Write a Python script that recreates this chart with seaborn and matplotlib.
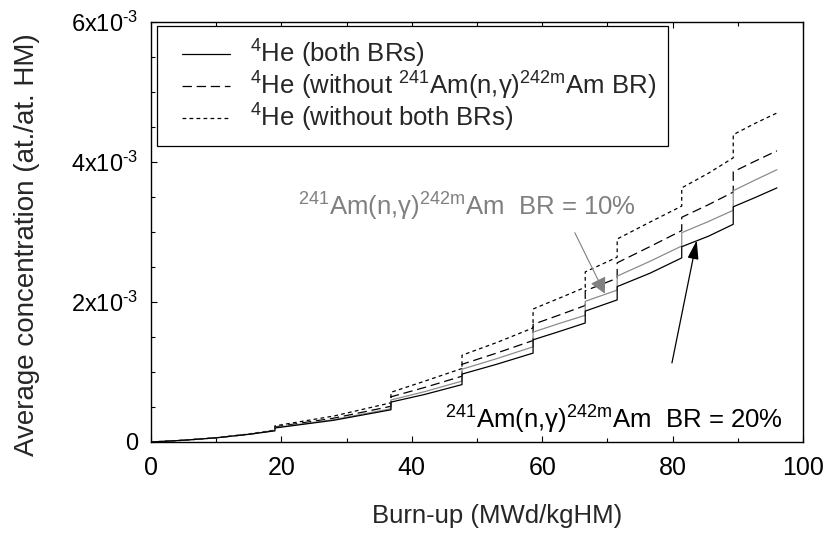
import matplotlib
matplotlib.use("Agg")
import matplotlib.pyplot as plt
import seaborn as sns
import pandas as pd
from matplotlib.ticker import MultipleLocator
from matplotlib.legend_handler import HandlerLine2D

# Burn-up grid (MWd/kgHM); repeated values mark the reload steps
burnup = [0, 5, 10, 15, 19.0, 19.0, 28, 36.8, 36.8, 42, 47.7, 47.7, 53, 58.6, 58.6,
          62.5, 66.6, 66.6, 71.5, 71.5, 76.5, 81.4, 81.4, 85.5, 89.3, 89.3, 92.6, 96.0]

# Average 4He concentration, in units of 1e-3 at./at. HM
he_both = [0, 0.025, 0.06, 0.11, 0.16, 0.20, 0.31, 0.46, 0.57, 0.68, 0.82, 0.97, 1.11, 1.27,
           1.46, 1.575, 1.70, 1.87, 2.03, 2.22, 2.41, 2.63, 2.79, 2.94, 3.11, 3.36, 3.49, 3.63]
he_br10 = [0, 0.025, 0.06, 0.11, 0.162, 0.205, 0.32, 0.475, 0.60, 0.72, 0.87, 1.04, 1.19, 1.36,
           1.57, 1.69, 1.81, 2.01, 2.17, 2.37, 2.58, 2.80, 2.99, 3.15, 3.31, 3.59, 3.74, 3.89]
he_no_am = [0, 0.025, 0.06, 0.11, 0.165, 0.215, 0.34, 0.51, 0.645, 0.78, 0.94, 1.11, 1.27, 1.45,
            1.68, 1.81, 1.95, 2.16, 2.34, 2.56, 2.79, 3.02, 3.21, 3.39, 3.57, 3.86, 4.01, 4.16]
he_no_both = [0, 0.025, 0.06, 0.115, 0.17, 0.23, 0.37, 0.56, 0.71, 0.87, 1.05, 1.24, 1.42, 1.63,
              1.90, 2.05, 2.21, 2.43, 2.64, 2.90, 3.14, 3.37, 3.63, 3.84, 4.06, 4.39, 4.55, 4.70]

ytick_vals = [0, 2, 4, 6]
ytick_text = ["0", r"2x10$^{\text{-3}}$", r"4x10$^{\text{-3}}$", r"6x10$^{\text{-3}}$"]


def sup(s):
    return r"$^{\mathrm{" + s + "}}$"


legend_labels = [
    sup("4") + "He (both BRs)",
    sup("4") + "He (without " + sup("241") + "Am(n,γ)" + sup("242m") + "Am BR)",
    sup("4") + "He (without both BRs)",
]
note_10 = sup("241") + "Am(n,γ)" + sup("242m") + "Am  BR = 10%"
note_20 = sup("241") + "Am(n,γ)" + sup("242m") + "Am  BR = 20%"


class InsetLine(HandlerLine2D):
    """Legend line sample that starts a little to the right of the frame."""

    def create_artists(self, legend, orig_handle, xdescent, ydescent, width,
                       height, fontsize, trans):
        shift = 0.52 * fontsize
        return super().create_artists(legend, orig_handle, xdescent - shift, ydescent,
                                      width - shift, height, fontsize, trans)


sns.set_style("ticks")
plt.rcParams["font.family"] = ["Liberation Sans", "DejaVu Sans"]
plt.rcParams["mathtext.fontset"] = "custom"
plt.rcParams["mathtext.rm"] = "Liberation Sans"
plt.rcParams["mathtext.it"] = "Liberation Sans:italic"
plt.rcParams["mathtext.sf"] = "Liberation Sans"

W, H = 825, 536
fig = plt.figure(figsize=(W / 100, H / 100), dpi=100)
ax = fig.add_axes([151 / W, 1 - 442 / H, 652 / W, 420 / H])

df = pd.DataFrame({"burnup": burnup, "both": he_both, "br10": he_br10,
                   "no_am": he_no_am, "no_both": he_no_both})

sns.lineplot(data=df, x="burnup", y="no_both", ax=ax, sort=False, estimator=None,
             color="black", lw=0.9, linestyle=(0, (3.0, 2.6)))
sns.lineplot(data=df, x="burnup", y="no_am", ax=ax, sort=False, estimator=None,
             color="black", lw=0.9, linestyle=(0, (7.5, 3.8)))
sns.lineplot(data=df, x="burnup", y="br10", ax=ax, sort=False, estimator=None,
             color="#8c8c8c", lw=0.9)
sns.lineplot(data=df, x="burnup", y="both", ax=ax, sort=False, estimator=None,
             color="black", lw=0.9)

l_short, l_long, l_gray, l_solid = ax.lines[:4]

ax.set_xlim(0, 100)
ax.set_ylim(0, 6)
ax.xaxis.set_major_locator(MultipleLocator(20))
ax.xaxis.set_minor_locator(MultipleLocator(10))
ax.set_yticks(ytick_vals)
ax.set_yticklabels(ytick_text)
ax.yaxis.set_minor_locator(MultipleLocator(0.5))

ax.tick_params(axis="x", which="both", direction="in", top=True, bottom=True,
               labelsize=18, pad=10, colors="black")
ax.tick_params(axis="y", which="both", direction="in", left=True, right=False,
               labelsize=17, pad=9, colors="black")
ax.tick_params(which="major", length=4, width=0.8)
ax.tick_params(which="minor", length=3, width=0.8)
for sp in ax.spines.values():
    sp.set_visible(True)
    sp.set_linewidth(1.0)
    sp.set_color("black")

ax.set_xlabel("Burn-up (MWd/kgHM)", fontsize=18.5)
ax.xaxis.set_label_coords(0.531, -0.148)
ax.set_ylabel("Average concentration (at./at. HM)", fontsize=20)
ax.yaxis.set_label_coords(-0.17, 0.47)

leg = ax.legend([l_solid, l_long, l_short], legend_labels, loc="upper left",
                bbox_to_anchor=(0.009, 0.99), borderaxespad=0, fontsize=18.5,
                frameon=True, fancybox=False, shadow=False, edgecolor="black",
                framealpha=1, handlelength=2.39, handletextpad=0.78,
                labelspacing=0.0, borderpad=0.45,
                handler_map={l_solid: InsetLine(), l_long: InsetLine(), l_short: InsetLine()})
leg.get_frame().set_linewidth(0.9)

ax.text(22.5, 3.23, note_10, color="#808080", fontsize=18.5, ha="left", va="baseline")
ax.text(45.1, 0.19, note_20, color="black", fontsize=18.5, ha="left", va="baseline")

ax.annotate("", xy=(69.6, 2.12), xytext=(65.0, 2.99),
            arrowprops=dict(arrowstyle="-|>,head_length=0.8,head_width=0.42",
                            mutation_scale=12, color="#808080", lw=0.8,
                            shrinkA=0, shrinkB=0))
ax.annotate("", xy=(83.7, 2.88), xytext=(79.9, 1.13),
            arrowprops=dict(arrowstyle="-|>,head_length=0.95,head_width=0.28",
                            mutation_scale=12, color="black", lw=0.9,
                            shrinkA=0, shrinkB=0))

fig.savefig("out.png", dpi=100)
